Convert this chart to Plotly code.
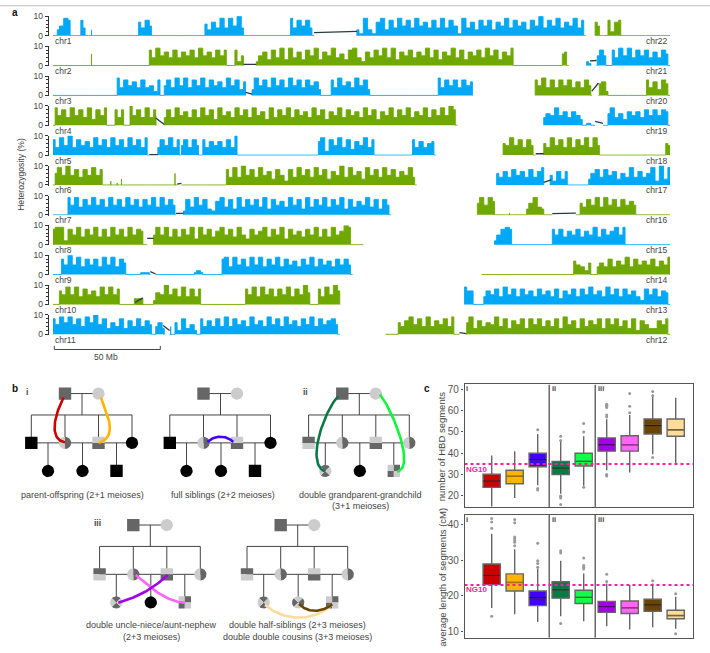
import plotly.graph_objects as go
import math

# ---------- panel a data (Mb, heterozygosity %) ----------
left_chroms = ["chr1","chr2","chr3","chr4","chr5","chr6","chr7","chr8","chr9","chr10","chr11"]
right_chroms = ["chr22","chr21","chr20","chr19","chr18","chr17","chr16","chr15","chr14","chr13","chr12"]
chrom_len = {"chr1":249,"chr2":241,"chr3":196,"chr4":189,"chr5":179,"chr6":170,"chr7":158,"chr8":145,"chr9":140,"chr10":134,"chr11":134,
             "chr12":133,"chr13":96,"chr14":88,"chr15":82,"chr16":90,"chr17":81,"chr18":78,"chr19":59,"chr20":63,"chr21":39,"chr22":35}

chr1 = [(2,[3,5,9,8]),(13,[8,4]),(18,[3]),(40,[7,4,8,5]),(71,[6,3,7,4,9,4,9,5,10,4]),(111,[9,4,8,5,8,4]),
        (142,[3,1,9,3,1,7,9,3,8,4, 9,5,8,4,9,5,7,4,8,4, 9,4,8,5,1,9,4,7,3,8, 5,8,3,7,5,9,4,8,5,7, 3,8,5,10,4,8,5,9,4,7, 5,9,4,8])]
chr2 = [(18,[6]),(45,[8,4,9,5,7,4,8,4,7,5, 8,4,9,5,7,4,8,5,8]),(85,[8,2,5]),
        (95,[2,5,7,3,8,4,9,3,9,4, 7,3,8,5,9,3,7,5,9,4, 6,3,8,9,4,2,7,4,8,5, 9,4,9,3,7,5,8,4,7,5, 9,4,8,3,7,5,9,4,8,3, 7,5,8,4,9,5,8,3,7,5, 9]),(238,[6,7])]
chr3 = [(30,[9,4,8,5,7,4,8,4,5,2,8]),(52,[5,8,4,9,5,9,4,8,5,9, 4,8,5,7,4,9,5,8,3,7]),(93,[3,9,5,8,4,9,5,8,4,9, 5,8,4,8,5,7,3]),
        (130,[8,4,9,5,7,4,9,5,8,3]),(180,[9,4,8,5,8,4,8,5,7])]
chr4 = [(1,[9,5,8,4,9,5,8,4,9,3,8,5,9]),(29,[8,4,8]),(36,[10,5,8,4,9,4,8]),(48,[5]),
        (52,[4,8,4,9,5,7,4,8,4,9, 5,8,3,9,5,7,4,9,5,8, 4,9,5,7,3,9,4,8,5,9, 4,8,5,7,4,9,5,8,3,7, 5,9,4,8,5,7,4,9,5,8, 3,7,5,9,4,8,5,9,4,7, 5,9,4,8,5,9,5,10,8])]
chr5 = [(0,[8,4,9,5,10,4,8,5,7,4, 9,5,8,4,9,5,8,4,9,5, 8,4,9]),(49,[4,8,5,9,4,8]),(60,[5,8,4,8,5]),(70,[8,4,7,5,7,4,8,4,10]),
        (124,[7,9,2,8,5,9,4,8,3,7,5,9,4,8]),(168,[8,4,7,4,6,7])]
chr6 = [(1,[6,9,5,10,5,8,4,8,5,9,5,8]),(27,[2]),(30,[1]),(32,[3]),(57,[6]),
        (81,[8,4,9,4,10,5,8,4,9,5, 7,3,8,5,2,8,4,9,5,8, 4,9,5,8,3,7,5,10,4,9, 5,7,3,9,5,8,4,9,5,8, 4,7,5,9,4])]
chr7 = [(7,[9,5,9,4,8,5,9,5,8,4, 9,5,8,4,9,5,8,4,8,5, 9,4,9,5,8,5]),
        (61,[2,8,4,9,5,8,3,2,7,9, 4,8,3,9,4,8,5,8,4,9, 3,8,5,7,4,9,5,8,3,9, 4,8,5,9,4,8,5,9,3,8, 4,7,5,9,4,8,3,8,5])]
chr8 = [(0,[8,9,9,2,8,5,9,4,8,5, 9,4,8,4,9,5,8,4,9,5, 8,7]),
        (47,[5,9,5,9,4,8,4,8,5,9, 3,9,5,8,4,7,9,5,8,4, 9,5,3,8,5,7,9,4,8,5, 9,3,8,5,7,4,8,5,9,4, 8,4,9,5,7,10,9])]
chr9 = [(4,[8,5,10,5,9,4,8,5,8,4,9,5,9,4,8,6]),(41,[1,1,1]),(66,[1,2,1]),
        (79,[8,9,4,9,5,8,4,9,5,9, 4,8,5,9,4,8,5,7,4,8, 5,9,4,8,5,7,4,8,5,8, 5])]
chr10 = [(3,[7,5,9,5,9,4,8,5,7,4,9,5,9,5,8]),(38,[3,3,3]),(47,[2,6,5,10,5,8,4,9,4,8,4,8]),
         (90,[8,5,9,4,9,5,8,4,8,5,9,4,8,5,10,6]),(124,[8,4,9,5,10,7])]
chr11 = [(0,[8,5,9,6,9,5,8,4,9,6, 10,5,8,3,6,4,8,3,7,4, 8,4,7,5]),(48,[4,6,3]),(55,[4]),(57,[6,2,8,3,5,2]),
         (69,[8,4,7,4,8,4,9,4,8,5, 7,4,9,5,7,4,9,5,8,4, 9,5,7,4,8,5,9,4,8,5, 7,8,5])]
chr12 = [(6,[6,4,7,9,5,8,4,9,4,7,5,8,4,9]),(38,[6,9,3,7,4,6,5,9,4,8, 3,7,5,8,3,8,5,8,4,7, 4,8,3,9,5,7,3,8,4,7, 5,8,3,8,5,8,4,7,3,8, 2,7,5,3,3,7,5,8])]
chr13 = [(0,[9,7,7]),(9,[4,7,5,8,4,9,5,8,4,8, 5,7,4,8,5,7,4,8,3,7, 5,8,4,8,5,9,5,7,4,9, 5,8,4,8,5,7,4,2,8,5, 8,4,7,6])]
chr14 = [(43,[7,5,4,2,6]),(54,[4,6,4,8,4,7,5,9,4,8,5,7,5,8,4,7,5,9])]
chr15 = [(0,[2,5,8,9,8]),(27,[8,5,8,4,7,5,8,4,7,5,9,4,8,5,7,9,5,9])]
chr16 = [(0,[6,9,5,9,7]),(15,[1]),(23,[3,6,9,4,3]),(48,[6,4,8,5,9,4,9,5,8,4,8,5,7,5])]
chr17 = [(0,[6,4,7,4,8,5,7,4,8,4,7,9]),(25,[5,2,7,3,7]),(43,[3,6,8,4,8,5,7,3,6,4, 9,4,7,4,6,9,2,10,3,9])]
chr18 = [(0,[6,5,9,5,8,4,8,5]),(19,[6,4,9,5,8,4,9,4,8,5,9,4,9,5]),(76,[6,5])]
chr19 = [(0,[4,6,5,9,5,7,4,7,5,3]),(20,[1,1]),(30,[6,9,4,6,3,7,5,7,4,8,5,8,5,8,7])]
chr20 = [(0,[8,5,9,4,8,4,8,5,8,4,7,4,8,5]),(30,[6,7,2]),(52,[8,4,7,3,8,6])]
chr21 = [(0,[2,1]),(5,[5,8,5]),(12,[8,4,9,5,9,4,8,5,8,4,7,4,8,6])]
chr22 = [(0,[7,5]),(6,[8,2,7,8])]
chrom_blocks = {"chr1":chr1,"chr2":chr2,"chr3":chr3,"chr4":chr4,"chr5":chr5,"chr6":chr6,"chr7":chr7,"chr8":chr8,"chr9":chr9,"chr10":chr10,"chr11":chr11,
                "chr12":chr12,"chr13":chr13,"chr14":chr14,"chr15":chr15,"chr16":chr16,"chr17":chr17,"chr18":chr18,"chr19":chr19,"chr20":chr20,"chr21":chr21,"chr22":chr22}
# centromere gaps: chrom -> (x0, y0, x1, y1)
chrom_gaps = {"chr1":(122,1.6,142,2.2),"chr2":(89,0.6,95,0.6),"chr3":(90,1.6,93,0.6),"chr4":(48,3.8,52,0.4),"chr5":(45,0.3,49,0.3),
              "chr6":(58,0.4,60,0.8),"chr7":(57.5,0.8,61,0.8),"chr8":(44,3.3,47,3.3),"chr9":(45.5,1.5,48,0.3),"chr10":(38.3,1,42,3.4),
              "chr11":(51.5,4.6,54.5,2),"chr12":(34.6,0.9,37.8,0.4),"chr16":(35,0.6,46,0.9),"chr17":(22,1.4,25.4,2.6),"chr18":(15.3,0.7,19,0.7),
              "chr19":(24,2,27.7,1),"chr20":(26.5,2.2,29.6,6.4),"chr21":(1.6,2.4,4.7,2.6)}
BLUE, GREEN = "#00A8F5", "#6FA800"
chrom_colors = {c:(BLUE if c in left_chroms[0::2]+right_chroms[1::2] else GREEN) for c in chrom_len}

# ---------- panel c data ----------
box_colors = ["#CC0000","#FFB400","#4400FF","#0A7A45","#11FF44","#A400E6","#FF66F5","#6B4400","#FFDC9A"]
med_colors = ["#7A0000","#A87400","#22007A","#053D22","#0A8A22","#4E006E","#A030A0","#2E1D00","#7A6530"]
top_q1 = [24,25.7,33.7,30,34,41,41,49,48]
top_med = [27,29.2,37,33,36.2,44,44,53,51]
top_q3 = [30.2,32,40,36.2,40,47.2,48.2,56.1,56.1]
top_lo = [15,19,25,21,24.8,32,31,39.5,35]
top_hi = [39,41,49,46,48,56,58,67.5,66]
top_out_x = [2,2,2,3,3,3,3,3,3,4,4,4,5,5,5,5,5,5,5,5,6,6,6,7,7,7]
top_out_y = [51,22.8,23.5,48,46,19.7,20,19,16,50,54,24,63,62.5,62,61.5,58,57,30,29.3,68,62,59,69,67,38]
bot_q1 = [23.1,21.3,17.2,19.3,17.8,15.3,15,15.6,13.5]
bot_med = [25.7,23.7,19.4,21.6,19.5,16.9,16.6,17.4,14.4]
bot_q3 = [28.9,26.1,21.3,23.9,21.5,18.4,18.5,19,15.9]
bot_lo = [16.5,14.8,12.6,14.2,12.8,11.4,10.5,11.1,10.7]
bot_hi = [37.4,33,27.6,29.8,26.2,23.4,23,23.4,19.7]
bot_out_x = [0,0,0,0,1,1,1,1,1,1,1,2,2,2,2,3,3,3,4,4,4,4,5,5,7,8,8]
bot_out_y = [41.7,40.7,38.9,14.2,41.4,40.5,36.5,36,35.5,35,34,34.7,29.8,29,28,32.6,32,12.2,30.6,28.5,28,27.5,26,24,24.2,20.5,9.3]
NG10_top, NG10_bot = 35, 23

W, H = 710, 653
fig = go.Figure()
def fx(p): return p/W
def fy(p): return 1-p/H

# whole-canvas axis for diagrams (pixel-like units)
fig.update_layout(xaxis=dict(domain=[0,1],range=[0,W],visible=False,fixedrange=True),
                  yaxis=dict(domain=[0,1],range=[H,0],visible=False,fixedrange=True))

# ---------- panel a ----------
PX_MB = 2.14
X0_PX, X1_PX = 53, 670
AXMAX = (X1_PX-X0_PX)/PX_MB
ROW_TOP0, ROW_STEP, ROW_H = 11.5, 30.28, 19.6
YMIN = -0.35
for r in range(11):
    ax = r+2
    y10 = ROW_TOP0 + r*ROW_STEP
    y0 = y10 + ROW_H
    pxunit = ROW_H/10
    fig.update_layout(**{
        f"xaxis{ax}": dict(domain=[fx(X0_PX),fx(X1_PX)],range=[0,AXMAX],visible=False,anchor=f"y{ax}",fixedrange=True),
        f"yaxis{ax}": dict(domain=[fy(y0-YMIN*pxunit),fy(y10)],range=[YMIN,10],anchor="free",position=fx(47.7),
                           tickvals=[0,10],ticks="outside",ticklen=3,tickwidth=1,tickcolor="#333",
                           minor=dict(tickvals=[2,4,6,8],ticks="outside",ticklen=2,tickwidth=0.8,tickcolor="#333"),
                           showline=True,linecolor="#333",linewidth=1,showgrid=False,zeroline=False,
                           tickfont=dict(family="Liberation Sans",size=8.5,color="#444"),fixedrange=True),
    })
    for name,off in ((left_chroms[r],0.0),(right_chroms[r],AXMAX-chrom_len[right_chroms[r]])):
        L = chrom_len[name]
        xs,ys = [0],[0]
        gap = chrom_gaps.get(name)
        pts = []
        for s,vals in chrom_blocks[name]:
            bx = [s+2*i for i in range(len(vals))]
            pts.append((bx,vals))
        pts.sort(key=lambda p:p[0][0])
        gap_done = gap is None
        for bx,vals in pts:
            if not gap_done and bx[0] >= gap[2]-0.5:
                xs += [gap[0],None,gap[2]]; ys += [0,None,0]
                gap_done = True
            xs += [bx[0]]+bx+[bx[-1]]
            ys += [0]+list(vals)+[0]
        if not gap_done:
            xs += [gap[0],None,gap[2]]; ys += [0,None,0]
        xs.append(L); ys.append(0)
        col = chrom_colors[name]
        fig.add_trace(go.Scatter(x=[None if v is None else v+off for v in xs],y=ys,mode="lines",fill="tozeroy",
                                 fillcolor=col,line=dict(color=col,width=0.9,shape="hvh",simplify=False),xaxis=f"x{ax}",yaxis=f"y{ax}",
                                 hoverinfo="skip",showlegend=False))
        if gap:
            fig.add_trace(go.Scatter(x=[gap[0]+off,gap[2]+off],y=[gap[1],gap[3]],mode="lines",line=dict(color="#2b3a3f",width=1.3),
                                     xaxis=f"x{ax}",yaxis=f"y{ax}",hoverinfo="skip",showlegend=False))

annots = []
def text(x,y,s,size=9,color="#444",anchor="center",bold=False,rot=0,fam="Liberation Sans"):
    annots.append(dict(x=x,y=y,xref="x",yref="y",text=f"<b>{s}</b>" if bold else s,showarrow=False,xanchor=anchor,yanchor="middle",
                       font=dict(family=fam,size=size,color=color),textangle=rot))
for r in range(11):
    yl = ROW_TOP0 + r*ROW_STEP + ROW_H + 5.5
    text(52.5,yl,left_chroms[r],8.5,anchor="left")
    text(670,yl,right_chroms[r],8.5,anchor="right")
text(20.7,171.5,"Heterozygosity (%)",8.6,rot=-90)
text(15,7.5,"a",10,"#111",bold=True)
text(105.7,356.7,"50 Mb",8.5)
fig.add_trace(go.Scatter(x=[54.3,54.3,160.3,160.3],y=[345.7,349.3,349.3,345.7],mode="lines",line=dict(color="#444",width=1),hoverinfo="skip",showlegend=False))
fig.add_trace(go.Scatter(x=[0,W],y=[0.5,0.5],mode="lines",line=dict(color="#cccccc",width=1.5),hoverinfo="skip",showlegend=False))

# ---------- panel b: pedigrees ----------
DARK, LIGHT, BLACK = "#666666", "#CCCCCC", "#000000"
R = 6.2
def circ_sector(cx,cy,a0,a1):
    n=24
    pts=[(cx+R*math.cos(math.radians(a0+(a1-a0)*i/n)),cy+R*math.sin(math.radians(a0+(a1-a0)*i/n))) for i in range(n+1)]
    return [(cx,cy)]+pts
def sq_rect(cx,cy,x0,y0,x1,y1):
    return [(cx+x0*R,cy+y0*R),(cx+x1*R,cy+y0*R),(cx+x1*R,cy+y1*R),(cx+x0*R,cy+y1*R)]
polys = {DARK:[],LIGHT:[],BLACK:[]}
def add(col,pts): polys[col].append(pts)
def symbol(kind,cx,cy):
    if kind=="S_black": add(BLACK,sq_rect(cx,cy,-1,-1,1,1))
    elif kind=="S_dark": add(DARK,sq_rect(cx,cy,-1,-1,1,1))
    elif kind=="C_light": add(LIGHT,circ_sector(cx,cy,0,360))
    elif kind=="C_black": add(BLACK,circ_sector(cx,cy,0,360))
    elif kind=="C_half":
        add(LIGHT,circ_sector(cx,cy,90,270)); add(DARK,circ_sector(cx,cy,-90,90))
    elif kind=="S_ld":
        add(LIGHT,sq_rect(cx,cy,-1,-1,1,0)); add(DARK,sq_rect(cx,cy,-1,0,1,1))
    elif kind=="S_dl":
        add(DARK,sq_rect(cx,cy,-1,-1,1,0)); add(LIGHT,sq_rect(cx,cy,-1,0,1,1))
    elif kind=="C_hour":
        add(DARK,circ_sector(cx,cy,-135,-45)); add(DARK,circ_sector(cx,cy,45,135))
        add(LIGHT,circ_sector(cx,cy,-45,45)); add(LIGHT,circ_sector(cx,cy,135,225))
    elif kind=="C_bow":
        add(LIGHT,circ_sector(cx,cy,-135,-45)); add(LIGHT,circ_sector(cx,cy,45,135))
        add(DARK,circ_sector(cx,cy,-45,45)); add(DARK,circ_sector(cx,cy,135,225))
    elif kind=="S_quad":
        add(LIGHT,sq_rect(cx,cy,-1,-1,0,0)); add(DARK,sq_rect(cx,cy,0,-1,1,0))
        add(DARK,sq_rect(cx,cy,-1,0,0,1)); add(LIGHT,sq_rect(cx,cy,0,0,1,1))

peds = [
 (65,394,["S_black","C_half","S_ld","C_black"],["C_black","C_black","S_black"]),
 (203.5,394,["S_black","C_half","S_ld","C_black"],["C_black","C_black","S_black"]),
 (342.3,394,["S_dl","C_half","S_ld","C_half"],["C_hour","C_black","S_quad"]),
 (133.3,527.3,["S_dl","C_half","S_ld","C_half"],["C_hour","C_black","S_quad"]),
 (280.7,527.3,["S_dl","C_half","S_ld","C_half"],["C_hour","C_bow","S_quad"]),
]
lx,ly = [],[]
def seg(x0,y0,x1,y1):
    lx.extend([x0,x1,None]); ly.extend([y0,y1,None])
for x0,y0,row2,row3 in peds:
    yS,yR2,yR3 = y0+21.7,y0+50,y0+78.5
    seg(x0,y0,x0+33.5,y0)
    seg(x0+17,y0,x0+17,yS)
    seg(x0-33.7,yS,x0+67,yS)
    for d in (-33.7,0,33.5,67):
        seg(x0+d,yS,x0+d,yR2)
    seg(x0-33.7,yR2,x0+67,yR2)
    for d in (-17,17.5,51.5):
        seg(x0+d,yR2,x0+d,yR3)
fig.add_trace(go.Scatter(x=lx,y=ly,mode="lines",line=dict(color="#444",width=1),hoverinfo="skip",showlegend=False))
for x0,y0,row2,row3 in peds:
    symbol("S_dark",x0,y0); symbol("C_light",x0+33.5,y0)
    for d,k in zip((-33.7,0,33.5,67),row2): symbol(k,x0+d,y0+50)
    for d,k in zip((-17,17.5,51.5),row3): symbol(k,x0+d,y0+78.5)
for col,pl in polys.items():
    xs,ys=[],[]
    for p in pl:
        xs += [q[0] for q in p]+[p[0][0],None]
        ys += [q[1] for q in p]+[p[0][1],None]
    fig.add_trace(go.Scatter(x=xs,y=ys,mode="lines",fill="toself",fillcolor=col,line=dict(width=0,color=col),hoverinfo="skip",showlegend=False))

curves = [
 ("#CC0000",[(63.5,398),(55,415),(48,440),(65,443.5)]),
 ("#FFB400",[(101,398),(105,410),(120,438),(98.5,444)]),
 ("#4400FF",[(207.3,443),(215,436),(226,436),(233.3,443)]),
 ("#0A7A45",[(338,397),(325,410),(305,465),(325,473)]),
 ("#11F53C",[(380,395),(395,415),(415,470),(397,473)]),
 ("#FF66F5",[(135.7,578),(150,590),(165,605),(185,606)]),
 ("#A400E6",[(118.3,606),(140,600),(155,590),(167.7,578)]),
 ("#FFDC9A",[(265,608.3),(285,626),(315,625),(332,608)]),
 ("#6B4400",[(299,607.3),(308,617),(322,616),(332.3,607.7)]),
]
for col,c in curves:
    ts=[i/40 for i in range(41)]
    bx=[(1-t)**3*c[0][0]+3*(1-t)**2*t*c[1][0]+3*(1-t)*t*t*c[2][0]+t**3*c[3][0] for t in ts]
    by=[(1-t)**3*c[0][1]+3*(1-t)**2*t*c[1][1]+3*(1-t)*t*t*c[2][1]+t**3*c[3][1] for t in ts]
    fig.add_trace(go.Scatter(x=bx,y=by,mode="lines",line=dict(color=col,width=2.6),hoverinfo="skip",showlegend=False))

text(15,389,"b",10,"#111",bold=True)
text(27,392,"i",8.5,"#444",bold=True)
text(305,392,"ii",8.5,"#444",bold=True)
text(97,525,"iii",8.5,"#444",bold=True)
text(427,389,"c",10,"#111",bold=True)
text(82.7,497,"parent-offspring (2+1 meioses)",9)
text(222.7,497,"full siblings (2+2 meioses)",9)
text(360,497,"double grandparent-grandchild",9)
text(360,508,"(3+1 meioses)",9)
text(151.7,629,"double uncle-niece/aunt-nephew",9)
text(151.7,641,"(2+3 meioses)",9)
text(297.7,629,"double half-siblings (2+3 meioses)",9)
text(297.7,641,"double double cousins (3+3 meioses)",9)

# ---------- panel c ----------
L_PX, R_PX = 464.5, 693.3
XR = [(L_PX-491.7)/23,(R_PX-491.7)/23]
panels = [(13,384.7,509,14.8,72.3,[20,30,40,50,60,70],top_q1,top_med,top_q3,top_lo,top_hi,top_out_x,top_out_y,NG10_top),
          (14,516.7,641.7,8.14,42.77,[10,20,30,40],bot_q1,bot_med,bot_q3,bot_lo,bot_hi,bot_out_x,bot_out_y,NG10_bot)]
for ax,ytop,ybot,y0,y1,tv,q1,med,q3,lo,hi,ox,oy,ng in panels:
    fig.update_layout(**{
        f"xaxis{ax}": dict(domain=[fx(L_PX),fx(R_PX)],range=XR,anchor=f"y{ax}",showticklabels=False,ticks="",showgrid=False,zeroline=False,
                           showline=True,mirror=True,linecolor="#555",linewidth=1.4,fixedrange=True),
        f"yaxis{ax}": dict(domain=[fy(ybot),fy(ytop)],range=[y0,y1],anchor=f"x{ax}",tickvals=tv,ticks="outside",ticklen=2.5,tickcolor="#555",
                           showgrid=False,zeroline=False,showline=True,mirror=True,linecolor="#555",linewidth=1.4,
                           tickfont=dict(family="Liberation Sans",size=10,color="#555"),fixedrange=True),
    })
    for s in (2.5,4.5):
        fig.add_trace(go.Scatter(x=[s,s],y=[y0,y1],mode="lines",line=dict(color="#444",width=1.2),xaxis=f"x{ax}",yaxis=f"y{ax}",hoverinfo="skip",showlegend=False))
    fig.add_trace(go.Scatter(x=ox,y=oy,mode="markers",marker=dict(color="#999999",size=3),xaxis=f"x{ax}",yaxis=f"y{ax}",hoverinfo="skip",showlegend=False))
    for i in range(9):
        fig.add_trace(go.Box(x=[i],q1=[q1[i]],median=[med[i]],q3=[q3[i]],lowerfence=[lo[i]],upperfence=[hi[i]],width=0.75,
                             fillcolor=box_colors[i],line=dict(color="#666",width=1.4),boxpoints=False,whiskerwidth=0,
                             xaxis=f"x{ax}",yaxis=f"y{ax}",hoverinfo="skip",showlegend=False))
        fig.add_trace(go.Scatter(x=[i-0.36,i+0.36],y=[med[i],med[i]],mode="lines",line=dict(color=med_colors[i],width=1.3),
                                 xaxis=f"x{ax}",yaxis=f"y{ax}",hoverinfo="skip",showlegend=False))
    fig.add_trace(go.Scatter(x=XR,y=[ng,ng],mode="lines",line=dict(color="#FF1CA0",width=2,dash="3px,3px"),xaxis=f"x{ax}",yaxis=f"y{ax}",hoverinfo="skip",showlegend=False))

text(476.7,470.7,"NG10",8,"#FF1CA0",bold=True)
text(476.7,593,"NG10",8,"#FF1CA0",bold=True)
text(441.7,447.7,"number of HBD segments",9.5,"#444",rot=-90)
text(441.7,580,"average length of segments (cM)",9.5,"#444",rot=-90)
for y in (389,522):
    text(467,y,"i",7.5,"#444",bold=True)
    text(554,y,"ii",7.5,"#444",bold=True)
    text(601,y,"iii",7.5,"#444",bold=True)

fig.update_layout(width=W,height=H,margin=dict(l=0,r=0,t=0,b=0),paper_bgcolor="white",plot_bgcolor="rgba(0,0,0,0)",
                  showlegend=False,annotations=annots,boxmode="overlay")
fig.write_html("out.html",config={"displayModeBar":False},post_script="document.body.style.margin='0';")
